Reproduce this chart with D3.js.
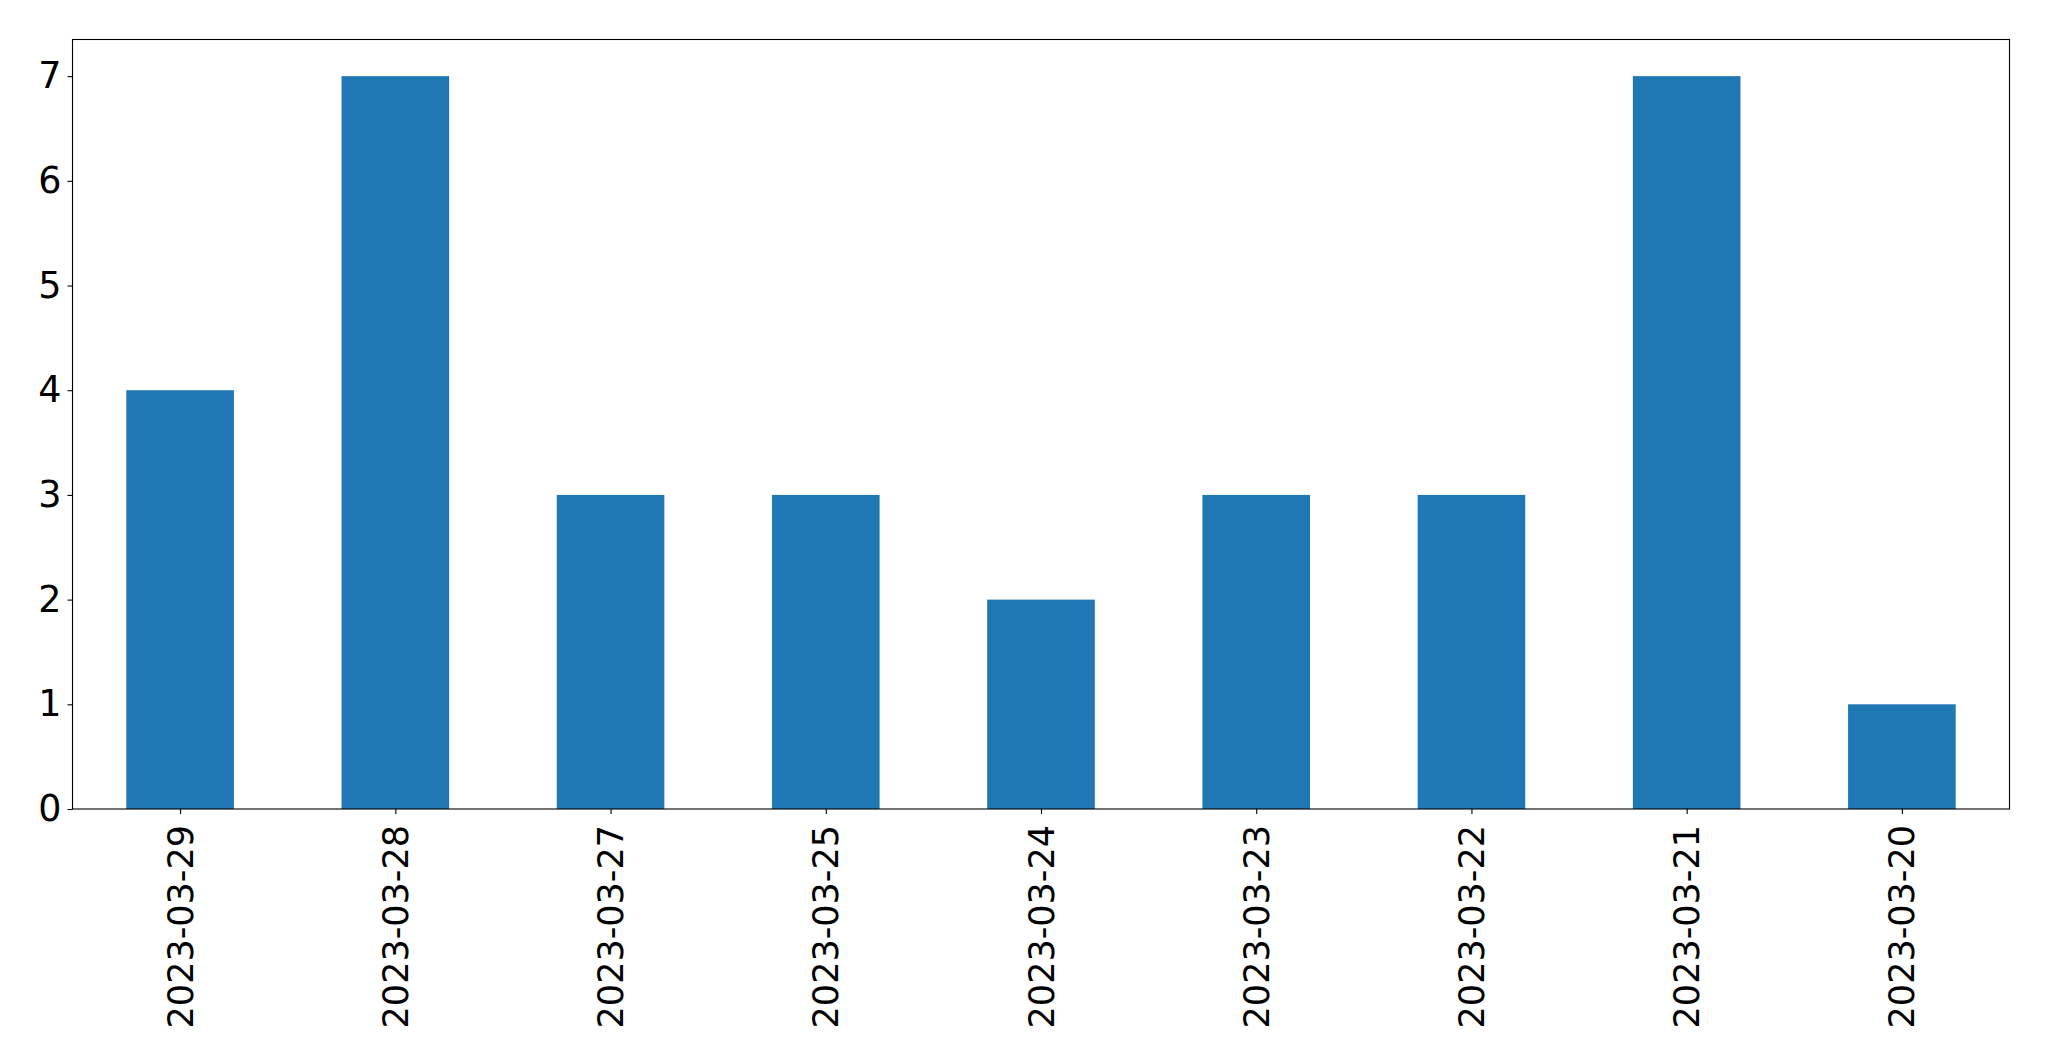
<!DOCTYPE html>
<html><head><meta charset="utf-8">
<script src="https://cdn.jsdelivr.net/npm/d3@7"></script>
<style>body{margin:0;background:#fff;} svg{display:block;}</style>
</head><body>
<svg id="chart" width="2049" height="1061"></svg>
<script>
const categories = ["2023-03-29","2023-03-28","2023-03-27","2023-03-25","2023-03-24","2023-03-23","2023-03-22","2023-03-21","2023-03-20"];
const values = [4,7,3,3,2,3,3,7,1];
const yTicks = [0,1,2,3,4,5,6,7];

const W = 2049, H = 1061;
const m = {left:72.5, right:2049-2009.5, top:39.5, bottom:1061-809};
const svg = d3.select("#chart");
const iw = W - m.left - m.right, ih = H - m.top - m.bottom;
const g = svg.append("g").attr("transform",`translate(${m.left},${m.top})`);

const x = d3.scaleLinear().domain([-0.5, categories.length-0.5]).range([0, iw]);
const y = d3.scaleLinear().domain([0, 7.35]).range([ih, 0]);
const bw = x(0.25) - x(-0.25);

g.selectAll("rect.bar").data(values).join("rect")
  .attr("class","bar")
  .attr("x",(d,i)=>x(i)-bw/2)
  .attr("width",bw)
  .attr("y",d=>y(d))
  .attr("height",d=>y(0)-y(d))
  .attr("fill","#1f77b4");

const font = "DejaVu Sans";

const yAxis = g.append("g").call(d3.axisLeft(y).tickValues(yTicks).tickFormat(d3.format("d")).tickSize(5).tickPadding(6));
yAxis.select(".domain").remove();
yAxis.selectAll("line").attr("stroke","#000").attr("stroke-width",1.1);
yAxis.selectAll("text").attr("font-family",font).attr("font-size",36.5).attr("fill","#000");

const xAxis = g.append("g").attr("transform",`translate(0,${ih})`)
  .call(d3.axisBottom(x).tickValues(d3.range(categories.length)).tickFormat(i=>categories[i]).tickSize(5).tickPadding(6));
xAxis.select(".domain").remove();
xAxis.selectAll("line").attr("stroke","#000").attr("stroke-width",1.1);
xAxis.selectAll("text")
  .attr("font-family",font).attr("font-size",35).attr("fill","#000")
  .attr("text-anchor","end")
  .attr("dy",null)
  .attr("transform","translate(0,16) rotate(-90)")
  .attr("x",0).attr("y",0)
  .attr("dominant-baseline","central");

g.append("rect").attr("x",0).attr("y",0).attr("width",iw).attr("height",ih)
  .attr("fill","none").attr("stroke","#000").attr("stroke-width",1.1);
</script>
</body></html>
